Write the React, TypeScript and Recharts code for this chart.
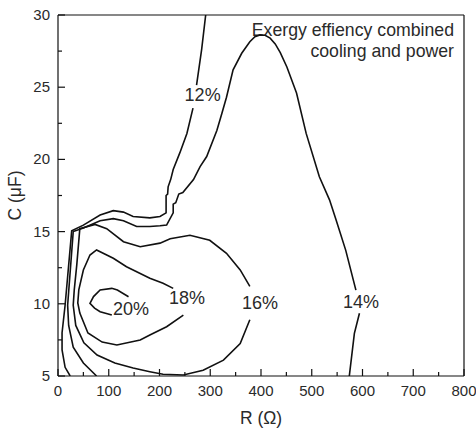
import React from "react";
import { ComposedChart, Line, Scatter, XAxis, YAxis, ReferenceLine } from "recharts";

// ---------- data (R in Ω, C in μF) ----------
const xTicks = [0, 50, 100, 150, 200, 250, 300, 350, 400, 450, 500, 550, 600, 650, 700, 750, 800];
const yTicks = [5, 7.5, 10, 12.5, 15, 17.5, 20, 22.5, 25, 27.5, 30];

const contour12 = [
  { r: 291, c: 30 }, { r: 283, c: 27.6 }, { r: 273, c: 25.15 }, { r: 270, c: null },
  { r: 266, c: 23.55 }, { r: 254, c: 21.8 }, { r: 240, c: 20.45 }, { r: 227, c: 19.3 },
  { r: 222, c: 18.6 }, { r: 217, c: 18.1 }, { r: 216, c: 17.6 }, { r: 213, c: 17.5 },
  { r: 213, c: 16.3 }, { r: 201, c: 16.05 }, { r: 181, c: 15.95 }, { r: 148, c: 16.05 },
  { r: 129, c: 16.35 }, { r: 109, c: 16.45 }, { r: 83, c: 16.15 }, { r: 50, c: 15.45 },
  { r: 27, c: 15.05 }, { r: 14, c: 9.9 }, { r: 8, c: 8 }, { r: 8, c: 6.8 },
  { r: 14, c: 5.6 }, { r: 24, c: 5 },
];

const contour14 = [
  { r: 574, c: 5 }, { r: 584, c: 7.95 }, { r: 594, c: 9.35 }, { r: 595, c: null },
  { r: 587, c: 10.95 }, { r: 567, c: 13.7 }, { r: 548, c: 15.8 }, { r: 535, c: 17.2 },
  { r: 515, c: 18.8 }, { r: 489, c: 21.8 }, { r: 470, c: 24.6 }, { r: 451, c: 26.4 },
  { r: 438, c: 27.4 }, { r: 428, c: 28.0 }, { r: 418, c: 28.4 }, { r: 408, c: 28.6 },
  { r: 398, c: 28.62 }, { r: 388, c: 28.5 }, { r: 378, c: 28.15 },
  { r: 362, c: 27.35 }, { r: 345, c: 26.2 }, { r: 332, c: 24.3 }, { r: 323, c: 23.2 },
  { r: 313, c: 22.0 }, { r: 293, c: 20.2 }, { r: 280, c: 19.5 }, { r: 267, c: 18.6 },
  { r: 246, c: 17.7 }, { r: 238, c: 17.6 }, { r: 232, c: 17.0 }, { r: 227, c: 16.9 },
  { r: 227, c: 16.3 }, { r: 214, c: 15.45 }, { r: 201, c: 15.4 }, { r: 181, c: 15.35 },
  { r: 155, c: 15.35 }, { r: 129, c: 15.75 }, { r: 109, c: 15.9 }, { r: 83, c: 15.75 },
  { r: 50, c: 15.25 }, { r: 30, c: 15.0 }, { r: 19, c: 9.9 }, { r: 21, c: 8.5 },
  { r: 30, c: 7.0 }, { r: 50, c: 5.9 }, { r: 76, c: 5 },
];

const contour16 = [
  { r: 378, c: 8.9 }, { r: 359, c: 7.25 }, { r: 326, c: 6.1 }, { r: 286, c: 5.4 },
  { r: 247, c: 5.07 }, { r: 207, c: 5.12 }, { r: 181, c: 5.3 }, { r: 148, c: 5.55 },
  { r: 112, c: 5.9 }, { r: 77, c: 6.45 }, { r: 51, c: 7.3 }, { r: 35, c: 8.5 },
  { r: 30, c: 9.9 }, { r: 32, c: 10.95 }, { r: 37, c: 12.7 }, { r: 43, c: 15.2 },
  { r: 73, c: 15.5 }, { r: 96, c: 15.2 }, { r: 129, c: 14.3 }, { r: 162, c: 13.95 },
  { r: 201, c: 14.2 }, { r: 221, c: 14.5 }, { r: 260, c: 14.75 }, { r: 299, c: 14.4 },
  { r: 332, c: 13.5 }, { r: 359, c: 12.35 }, { r: 378, c: 11.2 },
];

const contour18 = [
  { r: 227, c: 11.07 }, { r: 207, c: 11.42 }, { r: 181, c: 11.77 }, { r: 135, c: 12.57 },
  { r: 109, c: 13.15 }, { r: 76, c: 13.73 }, { r: 63, c: 13.38 }, { r: 50, c: 12.34 },
  { r: 41, c: 10.96 }, { r: 39, c: 10.06 }, { r: 43, c: 9.36 }, { r: 59, c: 7.98 },
  { r: 87, c: 7.35 }, { r: 116, c: 7.15 }, { r: 162, c: 7.49 }, { r: 181, c: 7.84 },
  { r: 214, c: 8.41 }, { r: 247, c: 9.22 },
];

const contour20 = [
  { r: 139, c: 10.49 }, { r: 117, c: 10.95 }, { r: 106, c: 11.07 }, { r: 83, c: 10.96 },
  { r: 70, c: 10.5 }, { r: 63, c: 10.03 }, { r: 72, c: 9.7 }, { r: 83, c: 9.45 },
  { r: 106, c: 9.22 },
];

const contourLabels = [
  { r: 285, c: 24.46, t: "12%" },
  { r: 597, c: 10.12, t: "14%" },
  { r: 398, c: 10.05, t: "16%" },
  { r: 254, c: 10.4, t: "18%" },
  { r: 144, c: 9.64, t: "20%" },
];

const titleLines = ["Exergy effiency combined", "cooling and power"];
const xTitle = "R (\u03A9)";
const yTitle = "C (\u03BCF)";

// ---------- layout ----------
const FONT = "Arial, 'Liberation Sans', Helvetica, sans-serif";
const W = 476;
const H = 428;
const PL = 58;
const PT = 15;
const PR = 464;
const PB = 376;
const Y_AXIS_W = 50;
const X_AXIS_H = 30;
const INK = "#111";
const TEXT = "#2a2a2a";

const XTick = (props: any) => {
  const { x, payload } = props;
  const v = payload.value;
  const major = v % 100 === 0;
  return (
    <g>
      <line x1={x} x2={x} y1={PB} y2={PB - (major ? 7 : 4)} stroke={INK} strokeWidth={1.2} />
      {major && (
        <text x={x} y={PB + 20} textAnchor="middle" fontSize={15} fontFamily={FONT} fill={TEXT}>
          {v}
        </text>
      )}
    </g>
  );
};

const YTick = (props: any) => {
  const { y, payload } = props;
  const v = payload.value;
  const major = v % 5 === 0;
  return (
    <g>
      <line x1={PL} x2={PL + (major ? 7 : 4)} y1={y} y2={y} stroke={INK} strokeWidth={1.2} />
      {major && (
        <text x={PL - 8} y={y + 5} textAnchor="end" fontSize={15} fontFamily={FONT} fill={TEXT}>
          {v}
        </text>
      )}
    </g>
  );
};

const LabelShape = (props: any) => {
  const { cx, cy, payload } = props;
  return (
    <text x={cx} y={cy} dy="0.35em" textAnchor="middle" fontSize={18} fontFamily={FONT} fill={TEXT}>
      {payload.t}
    </text>
  );
};

const XTitle = () => (
  <text x={(PL + PR) / 2} y={424} textAnchor="middle" fontSize={17.5} fontFamily={FONT} fill={TEXT}>
    {xTitle}
  </text>
);

const YTitle = () => (
  <text
    x={15}
    y={(PT + PB) / 2}
    textAnchor="middle"
    dominantBaseline="central"
    transform={`rotate(-90 15 ${(PT + PB) / 2})`}
    fontSize={17.5}
    fontFamily={FONT}
    fill={TEXT}
  >
    {yTitle}
  </text>
);

const ChartTitle = () => (
  <g>
    {titleLines.map((t, i) => (
      <text key={i} x={454} y={36 + i * 21} textAnchor="end" fontSize={17.7} fontFamily={FONT} fill={TEXT}>
        {t}
      </text>
    ))}
  </g>
);

const series = [contour12, contour14, contour16, contour18, contour20];

export default function App() {
  return (
    <div style={{ position: "absolute", left: 0, top: 0, width: W, height: H, background: "#fff" }}>
      <ComposedChart
        width={W}
        height={H}
        margin={{ top: PT, right: W - PR, bottom: H - PB - X_AXIS_H, left: PL - Y_AXIS_W }}
      >
        <XAxis
          type="number"
          dataKey="r"
          domain={[0, 800]}
          ticks={xTicks}
          interval={0}
          tickLine={false}
          tick={<XTick />}
          height={X_AXIS_H}
          axisLine={{ stroke: INK, strokeWidth: 1.2 }}
          allowDataOverflow
          label={<XTitle />}
        />
        <YAxis
          type="number"
          dataKey="c"
          domain={[5, 30]}
          ticks={yTicks}
          interval={0}
          tickLine={false}
          tick={<YTick />}
          width={Y_AXIS_W}
          axisLine={{ stroke: INK, strokeWidth: 1.2 }}
          allowDataOverflow
          label={<YTitle />}
        />
        <ReferenceLine x={800} stroke={INK} strokeWidth={1.2} />
        <ReferenceLine y={30} stroke={INK} strokeWidth={1.2} label={<ChartTitle />} />
        {series.map((d, i) => (
          <Line
            key={i}
            data={d}
            dataKey="c"
            type="linear"
            stroke={INK}
            strokeWidth={1.6}
            dot={false}
            activeDot={false}
            connectNulls={false}
            isAnimationActive={false}
          />
        ))}
        <Scatter data={contourLabels} dataKey="c" shape={<LabelShape />} isAnimationActive={false} />
      </ComposedChart>
    </div>
  );
}
